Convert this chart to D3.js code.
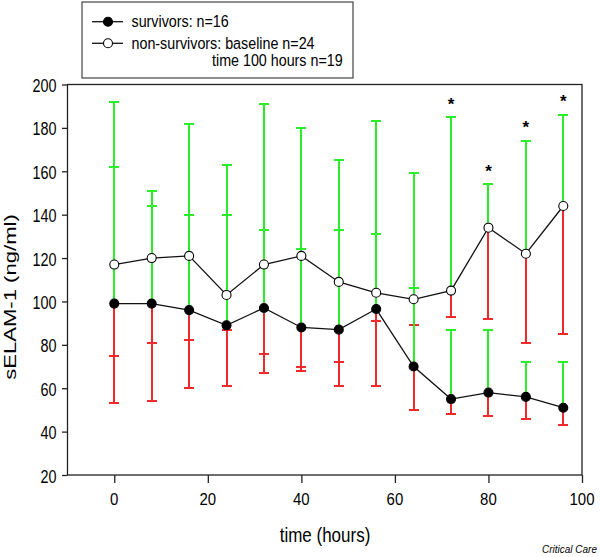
<!DOCTYPE html>
<html><head><meta charset="utf-8">
<script src="https://cdn.jsdelivr.net/npm/d3@7"></script>
<style>body{margin:0;background:#fff} text{font-family:"Liberation Sans",Arial,sans-serif;fill:#000}</style>
</head><body><svg id="c" width="600" height="557"></svg>
<script>
const times = [0,8,16,24,32,40,48,56,64,72,80,88,96];
const survMean  = [99, 99, 96, 89, 97, 88, 87, 96.5, 70, 55, 58, 56, 51];
const survUpper = [162, 144, 140, 140, 133, 124, 133, 131, 106, 87, 87, 72, 72];
const survLower = [53, 54, 60, 61, 67, 68, 61, 61, 50, 48, 47, 46, 43];
const nonMean   = [117, 120, 121, 103, 117, 121, 109, 104, 101, 105, 134, 122, 144];
const nonUpper  = [192, 151, 182, 163, 191, 180, 165, 183, 159, 185, 154, 174, 186];
const nonLower  = [75, 81, 82, 87, 76, 70, 72, 91, 89, 93, 92, 81, 85];
const starTimes = [72, 80, 88, 96];
const xTicks = [0, 20, 40, 60, 80, 100];
const yTicks = [20, 40, 60, 80, 100, 120, 140, 160, 180, 200];

const GREEN = "#2aee2a", RED = "#ee2a2a";
const svg = d3.select("#c");
const x = d3.scaleLinear().domain([-10, 100]).range([67.5, 582]);
const y = d3.scaleLinear().domain([20, 200]).range([475, 84.5]);

function stext(g, px, py, str, size, anchor, ky, extra) {
  const t = g.append("text")
    .attr("transform", `translate(${px},${py}) scale(1,${ky})`)
    .attr("text-anchor", anchor)
    .style("font-size", size + "px")
    .text(str);
  if (extra) extra(t);
  return t;
}

const series = [
  {mean: survMean, up: survUpper, lo: survLower, fill: "#000"},
  {mean: nonMean, up: nonUpper, lo: nonLower, fill: "#fff"}
];
const cap = 5;
const plot = svg.append("g");

function bar(t, v0, v1, color) {
  const px = Math.round(x(t)), py = Math.round(y(v1));
  plot.append("line").attr("x1", px).attr("x2", px).attr("y1", y(v0)).attr("y2", py)
    .attr("stroke", color).attr("stroke-width", 2).attr("shape-rendering", "crispEdges");
  plot.append("line").attr("x1", px - cap).attr("x2", px + cap).attr("y1", py).attr("y2", py)
    .attr("stroke", color).attr("stroke-width", 2).attr("shape-rendering", "crispEdges");
}
// red (lower) bars first, then green (upper) bars
series.forEach(s => times.forEach((t, i) => bar(t, s.mean[i], s.lo[i], RED)));
series.forEach(s => times.forEach((t, i) => bar(t, s.mean[i], s.up[i], GREEN)));

// lines and markers
const line = d3.line().x(d => x(d[0])).y(d => y(d[1]));
series.forEach(s => {
  plot.append("path").attr("d", line(times.map((t, i) => [t, s.mean[i]])))
    .attr("fill", "none").attr("stroke", "#111").attr("stroke-width", 1.3);
});
series.forEach(s => {
  times.forEach((t, i) => {
    plot.append("circle").attr("cx", x(t)).attr("cy", y(s.mean[i])).attr("r", 4.5)
      .attr("fill", s.fill).attr("stroke", "#000").attr("stroke-width", 1.1);
  });
});
// stars
starTimes.forEach(t => {
  const i = times.indexOf(t);
  stext(plot, x(t), y(nonUpper[i]) - 7.5, "*", 17, "middle", 1, e => e.style("font-weight", "bold"));
});

// frame
svg.append("rect").attr("x", x(-10)).attr("y", y(200)).attr("width", x(100) - x(-10)).attr("height", y(20) - y(200))
  .attr("fill", "none").attr("stroke", "#222").attr("stroke-width", 1.3);

// axes ticks
const xa = svg.append("g").attr("transform", `translate(0,${y(20)})`)
  .call(d3.axisBottom(x).tickValues(xTicks).tickSize(8).tickSizeOuter(0).tickFormat(""));
const ya = svg.append("g").attr("transform", `translate(${x(-10)},0)`)
  .call(d3.axisLeft(y).tickValues(yTicks).tickSize(5.5).tickSizeOuter(0).tickFormat(""));
[xa, ya].forEach(a => { a.select(".domain").remove(); a.selectAll("line").attr("stroke", "#222").attr("stroke-width", 1.3); });

xTicks.forEach(v => stext(svg, x(v), 505, String(v), 15, "middle", 1.12));
yTicks.forEach(v => stext(svg, 56.5, y(v) + 7.5, String(v), 14.4, "end", 1.28));

// axis titles
stext(svg, 325, 542, "time (hours)", 17, "middle", 1.2);
svg.append("text").attr("transform", "translate(16,297) rotate(-90) scale(1.3,1)")
  .attr("text-anchor", "middle").style("font-size", "17px").text("sELAM-1 (ng/ml)");

stext(svg, 597, 553, "Critical Care", 10, "end", 1.15, e => e.style("font-style", "italic"));

// legend
const lg = svg.append("g");
lg.append("rect").attr("x", 82).attr("y", 2).attr("width", 271).attr("height", 76)
  .attr("fill", "none").attr("stroke", "#444").attr("stroke-width", 1.2);
[[21.7, "#000", "survivors: n=16"], [43.3, "#fff", "non-survivors: baseline n=24"]].forEach(([ly, f, txt]) => {
  lg.append("line").attr("x1", 92).attr("x2", 123).attr("y1", ly).attr("y2", ly).attr("stroke", "#111").attr("stroke-width", 1.3);
  lg.append("circle").attr("cx", 108).attr("cy", ly).attr("r", 4.5).attr("fill", f).attr("stroke", "#000").attr("stroke-width", 1.1);
  stext(lg, 131.5, ly + 5.5, txt, 14.3, "start", 1.1);
});
stext(lg, 212, 65.5, "time 100 hours n=19", 14.3, "start", 1.1);
</script></body></html>
